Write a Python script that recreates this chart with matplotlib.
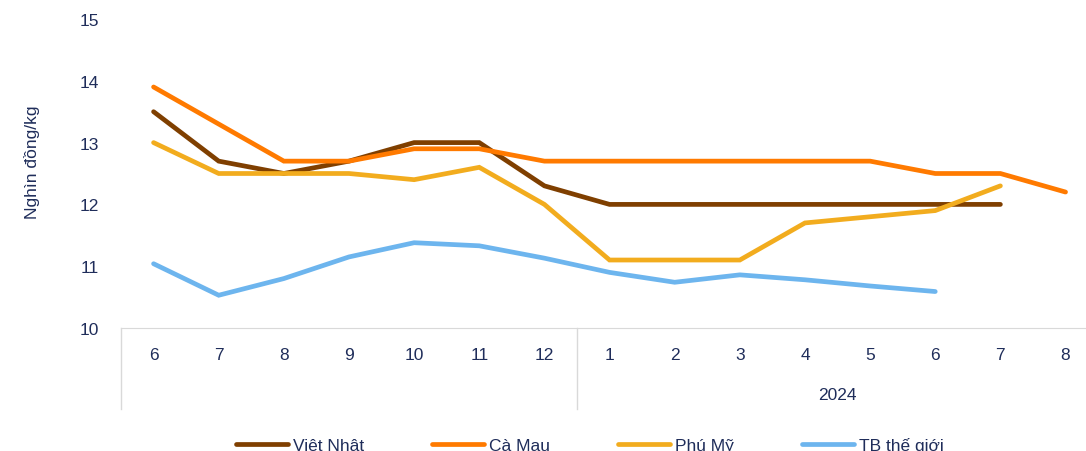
import matplotlib
matplotlib.use('Agg')
import matplotlib.pyplot as plt
import matplotlib.transforms as mtransforms
import numpy as np

plt.rcParams['font.family'] = ['Liberation Sans', 'DejaVu Sans']

months = ['6', '7', '8', '9', '10', '11', '12', '1', '2', '3', '4', '5', '6', '7', '8']
year_label = '2024'

viet_nhat = [13.5, 12.7, 12.5, 12.7, 13.0, 13.0, 12.3, 12.0, 12.0, 12.0, 12.0, 12.0, 12.0, 12.0, None]
ca_mau = [13.9, 13.3, 12.7, 12.7, 12.9, 12.9, 12.7, 12.7, 12.7, 12.7, 12.7, 12.7, 12.5, 12.5, 12.2]
phu_my = [13.0, 12.5, 12.5, 12.5, 12.4, 12.6, 12.0, 11.1, 11.1, 11.1, 11.7, 11.8, 11.9, 12.3, None]
tb_the_gioi = [11.04, 10.53, 10.8, 11.15, 11.38, 11.33, 11.13, 10.9, 10.74, 10.86, 10.78, 10.68, 10.59, None, None]

names = ['Việt Nhật', 'Cà Mau', 'Phú Mỹ', 'TB thế giới']
colors = ['#7F3F00', '#FF7A00', '#F2AC1E', '#6DB5EE']
txt_col = '#1F2D5A'

fig = plt.figure(figsize=(10.86, 4.52), dpi=100)
ax = fig.add_axes([121/1086, 123/452, 1 - 121/1086, (329-20)/452])

x = np.arange(len(months))
for vals, nm, c in zip([viet_nhat, ca_mau, phu_my, tb_the_gioi], names, colors):
    v = np.array([np.nan if a is None else a for a in vals], dtype=float)
    ax.plot(x, v, color=c, lw=3.4, label=nm, solid_capstyle='round', solid_joinstyle='miter')

ax.set_xlim(-0.5, (1086-121)/65.14 - 0.5)
ax.set_ylim(10, 15)
ax.set_yticks([10, 11, 12, 13, 14, 15])
ax.set_xticks(x)
ax.set_xticklabels(months)
ax.tick_params(axis='both', length=0, labelsize=12.5, labelcolor=txt_col)
ax.tick_params(axis='x', pad=14)
ax.tick_params(axis='y', pad=16)
for s in ['top', 'right', 'left']:
    ax.spines[s].set_visible(False)
ax.spines['bottom'].set_color('#D9D9D9')
ax.set_ylabel('Nghìn đồng/kg', fontsize=12.5, color=txt_col)
ax.yaxis.set_label_coords(-(121-40)/965, (329-162)/309)

# group separators below the axis
trans = mtransforms.blended_transform_factory(ax.transData, ax.transAxes)
sep_bottom = -(410-329)/309
for xs in [-0.5, 6.5]:
    ax.plot([xs, xs], [0, sep_bottom], transform=trans, color='#D9D9D9', lw=1, clip_on=False)
ax.text(10.5, -(396-329)/309, year_label, transform=trans, ha='center', va='center',
        fontsize=12.5, color=txt_col)

fig.legend(loc='center', bbox_to_anchor=(590/1086, 1 - 446/452), ncol=4, frameon=False,
           fontsize=12.5, handlelength=3.0, handletextpad=0.3, columnspacing=3.9,
           labelcolor=txt_col)

fig.savefig('out.png', dpi=100)
